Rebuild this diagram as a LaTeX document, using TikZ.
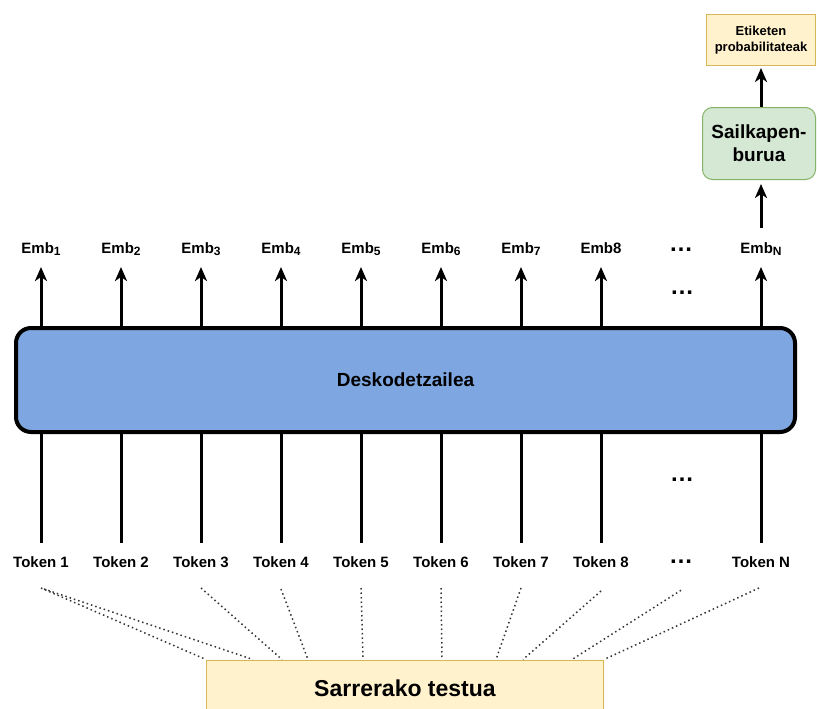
\documentclass[tikz,border=0pt]{standalone}
\usepackage{fontspec}
\setmainfont{Liberation Sans}
\usetikzlibrary{arrows.meta, positioning}

\definecolor{decblue}{HTML}{7EA6E0}
\definecolor{headfill}{HTML}{D5E8D4}
\definecolor{headdraw}{HTML}{82B366}
\definecolor{notefill}{HTML}{FFF2CC}
\definecolor{notedraw}{HTML}{D6B656}

\newcommand{\embsub}[1]{\raisebox{-2.5pt}{\fontsize{12}{12}\selectfont #1}}

\tikzstyle{token} = [inner sep=0pt, outer sep=0pt, minimum width=80pt, text height=11pt, text depth=0pt, font=\fontsize{15}{18}\selectfont\bfseries]
\tikzstyle{emb} = [inner sep=0pt, outer sep=0pt, minimum width=80pt, text height=11pt, text depth=4pt, font=\fontsize{15}{18}\selectfont\bfseries]
\tikzstyle{gap} = [inner sep=0pt, outer sep=0pt, minimum width=80pt, font=\fontsize{24}{24}\selectfont\bfseries]
\tikzstyle{decoder} = [rectangle, rounded corners=15pt, draw, line width=4pt, fill=decblue, minimum width=779pt, minimum height=104pt, font=\fontsize{19}{23}\selectfont\bfseries]
\tikzstyle{clshead} = [rectangle, rounded corners=10pt, draw=headdraw, line width=1pt, fill=headfill, align=center, minimum width=113pt, minimum height=72pt, font=\fontsize{19}{23}\selectfont\bfseries]
\tikzstyle{outbox} = [rectangle, draw=notedraw, line width=1pt, fill=notefill, align=center, minimum width=109pt, minimum height=51pt, font=\fontsize{13}{16}\selectfont\bfseries]
\tikzstyle{inbox} = [rectangle, draw=notedraw, line width=1pt, fill=notefill, minimum width=397pt, minimum height=56pt, font=\fontsize{23}{27}\selectfont\bfseries]
\tikzstyle{uparrow} = [line width=3pt, -{Stealth[length=14pt, width=12pt, inset=4pt]}]
\tikzstyle{feed} = [line width=3pt]
\tikzstyle{split} = [line width=1.5pt, dash pattern=on 1.5pt off 3pt, black!80]

\begin{document}
\begin{tikzpicture}[x=1pt, y=-1pt]
	\useasboundingbox (0,0) rectangle (817,709);

	% Input text
	\node (input) [inbox] at (405,688) {Sarrerako testua};

	% Tokens
	\node (tok1) [token] at (41,561.5) {Token 1};
	\node (tok2) [token, right=0pt of tok1] {Token 2};
	\node (tok3) [token, right=0pt of tok2] {Token 3};
	\node (tok4) [token, right=0pt of tok3] {Token 4};
	\node (tok5) [token, right=0pt of tok4] {Token 5};
	\node (tok6) [token, right=0pt of tok5] {Token 6};
	\node (tok7) [token, right=0pt of tok6] {Token 7};
	\node (tok8) [token, right=0pt of tok7] {Token 8};
	\node (tokdots) [gap, right=0pt of tok8] {…};
	\node (tokN) [token, right=0pt of tokdots] {Token N};

	% Decoder
	\node (dec) [decoder] at (405.5,380) {Deskodetzailea};

	% Embeddings
	\node (emb1) [emb] at (41,249.5) {Emb\embsub{1}};
	\node (emb2) [emb, right=0pt of emb1] {Emb\embsub{2}};
	\node (emb3) [emb, right=0pt of emb2] {Emb\embsub{3}};
	\node (emb4) [emb, right=0pt of emb3] {Emb\embsub{4}};
	\node (emb5) [emb, right=0pt of emb4] {Emb\embsub{5}};
	\node (emb6) [emb, right=0pt of emb5] {Emb\embsub{6}};
	\node (emb7) [emb, right=0pt of emb6] {Emb\embsub{7}};
	\node (emb8) [emb, right=0pt of emb7] {Emb8};
	\node (embdots) [gap, right=0pt of emb8] {…};
	\node (embN) [emb, right=0pt of embdots] {Emb\embsub{N}};

	% Dots between rows
	\node (updots) [gap] at (682,293) {…};
	\node (downdots) [gap] at (682,480) {…};

	% Classification head and output
	\node (head) [clshead] at (759,143.5) {Sailkapen-\\burua};
	\node (probs) [outbox] at (761,40) {Etiketen\\probabilitateak};

	% Lines - tokens into decoder
	\draw[feed, shorten <=13pt] (tok1.north) -- (tok1.north |- dec.south);
	\draw[feed, shorten <=13pt] (tok2.north) -- (tok2.north |- dec.south);
	\draw[feed, shorten <=13pt] (tok3.north) -- (tok3.north |- dec.south);
	\draw[feed, shorten <=13pt] (tok4.north) -- (tok4.north |- dec.south);
	\draw[feed, shorten <=13pt] (tok5.north) -- (tok5.north |- dec.south);
	\draw[feed, shorten <=13pt] (tok6.north) -- (tok6.north |- dec.south);
	\draw[feed, shorten <=13pt] (tok7.north) -- (tok7.north |- dec.south);
	\draw[feed, shorten <=13pt] (tok8.north) -- (tok8.north |- dec.south);
	\draw[feed, shorten <=13pt] (tokN.north) -- (tokN.north |- dec.south);

	% Arrows - decoder to embeddings
	\draw[uparrow, shorten >=10pt] (emb1.south |- dec.north) -- (emb1.south);
	\draw[uparrow, shorten >=10pt] (emb2.south |- dec.north) -- (emb2.south);
	\draw[uparrow, shorten >=10pt] (emb3.south |- dec.north) -- (emb3.south);
	\draw[uparrow, shorten >=10pt] (emb4.south |- dec.north) -- (emb4.south);
	\draw[uparrow, shorten >=10pt] (emb5.south |- dec.north) -- (emb5.south);
	\draw[uparrow, shorten >=10pt] (emb6.south |- dec.north) -- (emb6.south);
	\draw[uparrow, shorten >=10pt] (emb7.south |- dec.north) -- (emb7.south);
	\draw[uparrow, shorten >=10pt] (emb8.south |- dec.north) -- (emb8.south);
	\draw[uparrow, shorten >=10pt] (embN.south |- dec.north) -- (embN.south);

	% Arrows - head
	\draw[uparrow, shorten <=14pt, shorten >=4pt] (embN.north) -- (embN.north |- head.south);
	\draw[uparrow, shorten >=2pt] (embN.north |- head.north) -- (embN.north |- probs.south);

	% Dotted lines - input text split into tokens
	\draw[split] ([yshift=-21pt]tok1.south) -- (input.north west);
	\draw[split] ([xshift=3pt, yshift=-22pt]tok1.south) -- ([xshift=47pt]input.north west);
	\draw[split] ([yshift=-21pt]tok3.south) -- ([xshift=76pt]input.north west);
	\draw[split] ([yshift=-22pt]tok4.south) -- ([xshift=102pt]input.north west);
	\draw[split] ([yshift=-21pt]tok5.south) -- ([xshift=157pt]input.north west);
	\draw[split] ([yshift=-21pt]tok6.south) -- ([xshift=236pt]input.north west);
	\draw[split] ([yshift=-21pt]tok7.south) -- ([xshift=290pt]input.north west);
	\draw[split] ([yshift=-24pt]tok8.south) -- ([xshift=317pt]input.north west);
	\draw[split] ([yshift=-27pt]tokdots.south) -- ([xshift=366pt]input.north west);
	\draw[split] ([xshift=-2pt, yshift=-21pt]tokN.south) -- (input.north east);

\end{tikzpicture}
\end{document}
